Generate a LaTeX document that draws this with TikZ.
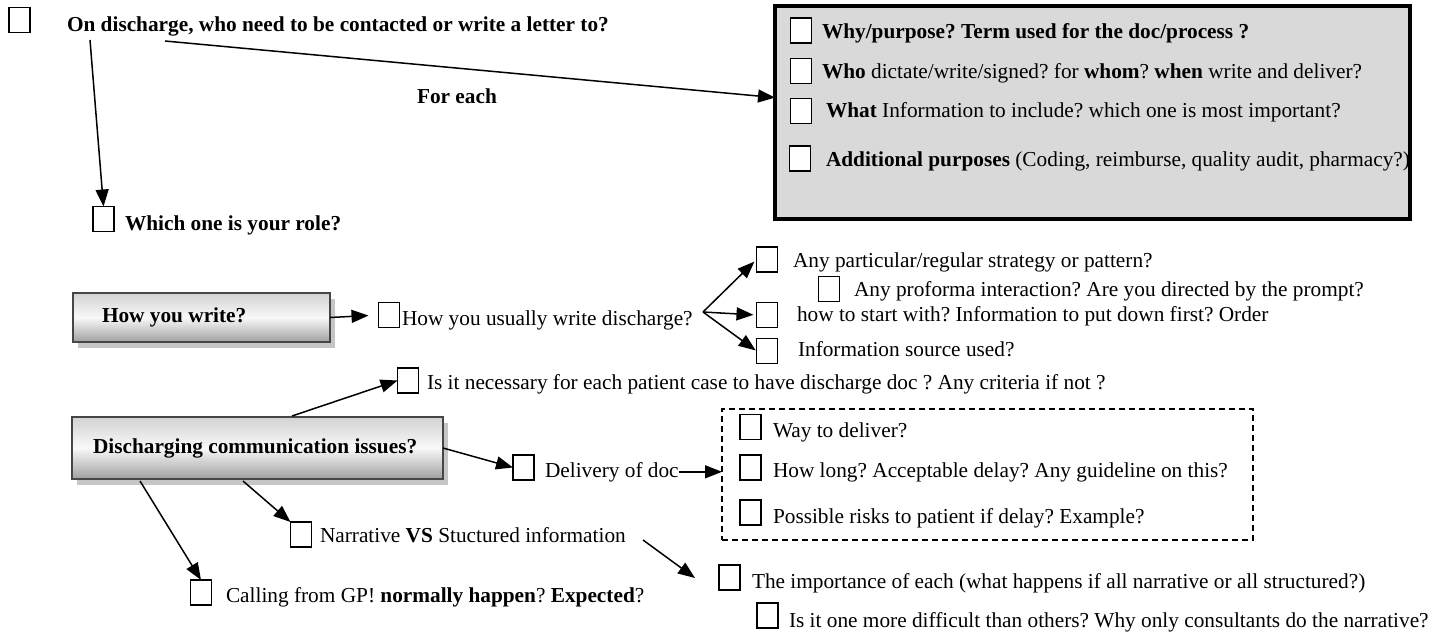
\documentclass[tikz,border=0pt]{standalone}
\usepackage{fontspec}
\setmainfont{Liberation Serif}
\usetikzlibrary{arrows.meta,calc,shadows}
\newcommand{\myfs}{\fontsize{21.3}{25}\selectfont}
\frenchspacing
\begin{document}
\begin{tikzpicture}[x=1pt,y=-1pt,
  every node/.style={inner sep=0pt, outer sep=0pt},
  txt/.style={anchor=base west, font=\myfs},
  txtb/.style={anchor=base west, font=\myfs\bfseries},
  cb/.style={draw, line width=1.6pt, fill=white, minimum width=21pt, minimum height=25pt},
  conn/.style={line width=1.5pt, -{Triangle[length=17pt,width=13pt]}},
  shbox/.style={draw=gray!55!black, line width=1.4pt, top color=gray!35, bottom color=gray!75, middle color=gray!5,
    anchor=north west, font=\myfs\bfseries,
    drop shadow={shadow xshift=5pt, shadow yshift=-6pt, fill=gray!45, opacity=1}},
  graybox/.style={draw, line width=3.5pt, fill=gray!30, anchor=north west},
  dashbox/.style={draw, line width=1.3pt, dash pattern=on 6pt off 4pt, anchor=north west}
]
\useasboundingbox (0,0) rectangle (1437,632);

% top
\node[cb] (cb0) at (19.5,20) {};
\node[txtb] (t0) at (67,31) {On discharge, who need to be contacted or write a letter to?};
\coordinate (s1) at (90,40);
\node[cb] (cbRole) at (103.5,219) {};
\node[txtb] (tRole) at (125,230) {Which one is your role?};
\draw[conn] (s1) -- (cbRole.north);

% gray box
\node[graybox, minimum width=635pt, minimum height=213pt] (gray) at (775,6) {};
\coordinate (s2) at (165,41);
\draw[conn] (s2) -- ($(gray.north west)!0.43!(gray.south west)$);
\node[txtb] (tEach) at (417,103) {For each};

\node[cb] (g1) at (801,30.5) {};
\node[txtb] (tg1) at (822,38) {Why/purpose? Term used for the doc/process ?};
\node[cb] (g2) at (801,71) {};
\node[txt] (tg2) at (822,78) {\textbf{Who} dictate/write/signed? for \textbf{whom}? \textbf{when} write and deliver?};
\node[cb] (g3) at (801,111) {};
\node[txt] (tg3) at (826,117) {\textbf{What} Information to include? which one is most important?};
\node[cb] (g4) at (800,158.5) {};
\node[txt] (tg4) at (826,166) {\textbf{Additional purposes} (Coding, reimburse, quality audit, pharmacy?)};

% how you write
\node[shbox, minimum width=257pt, minimum height=49pt] (hw) at (73,293) {\makebox[257pt][l]{\hspace{29pt}How you write?}};
\node[cb] (cbHow) at (389,315) {};
\node[txt] (tHow) at (402,325) {How you usually write discharge?};
\draw[conn, shorten >=10pt] (hw.east) -- (cbHow.west);

\coordinate (fan) at (703,312);
\node[cb] (cbAny) at (767,259.5) {};
\node[txt] (tAny) at (793,267) {Any particular/regular strategy or pattern?};
\node[cb] (cbPro) at (829,289) {};
\node[txt] (tPro) at (854,296) {Any proforma interaction? Are you directed by the prompt?};
\node[cb] (cbStart) at (767,315) {};
\node[txt] (tStart) at (797,321) {how to start with? Information to put down first? Order};
\node[cb] (cbSrc) at (767,351) {};
\node[txt] (tSrc) at (798,356) {Information source used?};
\draw[conn, shorten >=3pt] (fan) -- (cbAny.west);
\draw[conn, shorten >=3pt] (fan) -- (cbStart.west);
\draw[conn, shorten >=1pt] (fan) -- (cbSrc.west);

% discharging communication issues
\node[shbox, minimum width=371pt, minimum height=62pt] (disc) at (72,417) {\makebox[371pt][l]{\hspace{21pt}Discharging communication issues?}};

\node[cb] (cbNec) at (408,380.5) {};
\node[txt] (tNec) at (427,389) {Is it necessary for each patient case to have discharge doc ? Any criteria if not ?};
\coordinate (d0) at (292,416);
\draw[conn] (d0) -- (cbNec.west);

\node[cb] (cbDel) at (523.5,467.5) {};
\node[txt] (tDel) at (545,477) {Delivery of doc};
\draw[conn] (disc.east) -- (cbDel.west);

\node[dashbox, minimum width=531pt, minimum height=131pt] (dbox) at (722,409) {};
\draw[conn] (tDel.east) -- (tDel.east -| dbox.west);
\node[cb] (cbW) at (750.5,427) {};
\node[txt] (tW) at (773,437) {Way to deliver?};
\node[cb] (cbL) at (750.5,467.5) {};
\node[txt] (tL) at (773,477) {How long? Acceptable delay? Any guideline on this?};
\node[cb] (cbR) at (750.5,512.5) {};
\node[txt] (tR) at (773,523) {Possible risks to patient if delay? Example?};

\coordinate (d1) at (243,481);
\node[cb] (cbNar) at (301,534.5) {};
\node[txt] (tNar) at (320,542) {Narrative \textbf{VS} Stuctured information};
\draw[conn] (d1) -- (cbNar.north west);

\coordinate (d2) at (140,481);
\node[cb] (cbCall) at (201,592.5) {};
\node[txt] (tCall) at (226,602) {Calling from GP! \textbf{normally happen}? \textbf{Expected}?};
\draw[conn] (d2) -- (cbCall.north);

\coordinate (n1) at (643,540);
\coordinate (n2) at (695,578);
\draw[conn] (n1) -- (n2);
\node[cb] (cbImp) at (729.5,577.5) {};
\node[txt] (tImp) at (752,588) {The importance of each (what happens if all narrative or all structured?)};
\node[cb] (cbDiff) at (767.5,615.5) {};
\node[txt] (tDiff) at (789,627) {Is it one more difficult than others? Why only consultants do the narrative?};
\end{tikzpicture}
\end{document}
